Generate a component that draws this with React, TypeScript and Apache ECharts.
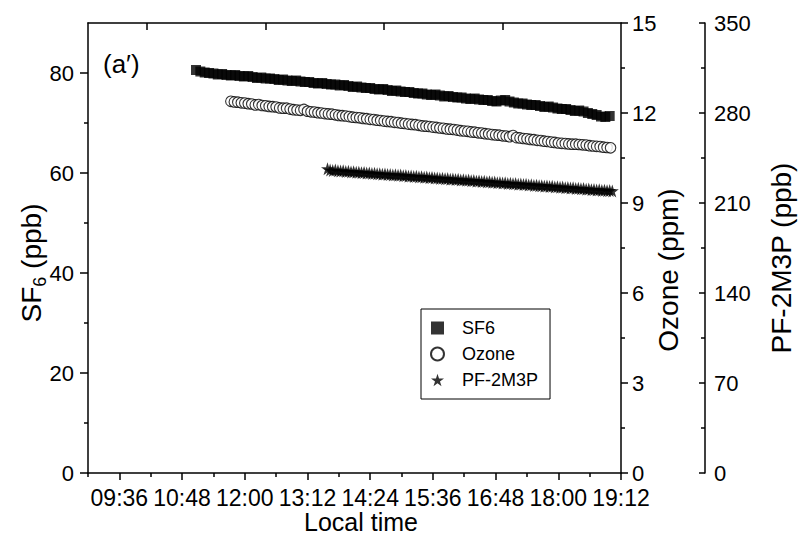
import React, { useEffect, useRef } from 'react';
import * as echarts from 'echarts';

const FONT = '"Liberation Sans", Arial, Helvetica, sans-serif';

// ---- time axis (minutes since midnight) ----
const timeMin = 540; // 09:00
const timeMax = 1152; // 19:12
const timeMajorTicks = [576, 648, 720, 792, 864, 936, 1008, 1080, 1152];
const timeMinorTicks = [540, 612, 684, 756, 828, 900, 972, 1044, 1116];
const topAxisTicks = [608, 744, 880, 1016];

// ---- value axes ----
const sf6Ticks = [0, 20, 40, 60, 80];
const sf6MinorTicks = [10, 30, 50, 70];
const ozoneTicks = [0, 3, 6, 9, 12, 15];
const ozoneMinorTicks = [1.5, 4.5, 7.5, 10.5, 13.5];
const pfTicks = [0, 70, 140, 210, 280, 350];
const pfMinorTicks = [35, 105, 175, 245, 315];

// ---- SF6 (ppb) ----
const sf6Times = [
  664, 669, 674, 679, 684, 689, 694, 699, 704, 709,
  714, 719, 724, 729, 734, 739, 744, 749, 754, 759,
  764, 769, 774, 779, 784, 789, 794, 799, 804, 809,
  814, 819, 824, 829, 834, 839, 844, 849, 854, 859,
  864, 869, 874, 879, 884, 889, 894, 899, 904, 909,
  914, 919, 924, 929, 934, 939, 944, 949, 954, 959,
  964, 969, 974, 979, 984, 989, 994, 999, 1004, 1009,
  1014, 1019, 1024, 1029, 1034, 1039, 1044, 1049, 1054, 1059,
  1064, 1069, 1074, 1079, 1084, 1089, 1094, 1099, 1104, 1109,
  1114, 1119, 1124, 1129, 1134, 1139,
];
const sf6Values = [
  80.6, 80.3, 80.1, 80.0, 79.9, 79.7, 79.8, 79.6, 79.5, 79.6,
  79.4, 79.3, 79.4, 79.2, 79.0, 79.1, 78.9, 78.9, 78.8, 78.6,
  78.7, 78.5, 78.4, 78.5, 78.3, 78.2, 78.2, 78.0, 77.9, 78.0,
  77.8, 77.7, 77.7, 77.5, 77.6, 77.4, 77.2, 77.3, 77.1, 77.0,
  77.0, 76.8, 76.7, 76.8, 76.6, 76.4, 76.5, 76.3, 76.2, 76.2,
  76.0, 75.9, 75.9, 75.7, 75.6, 75.7, 75.5, 75.3, 75.4, 75.2,
  75.1, 75.1, 74.9, 74.8, 74.9, 74.7, 74.6, 74.6, 74.4, 74.3,
  74.5, 74.6, 74.3, 74.1, 73.9, 73.9, 73.7, 73.6, 73.6, 73.4,
  73.2, 73.3, 73.1, 72.9, 72.8, 72.8, 72.6, 72.4, 72.5, 72.3,
  72.0, 71.8, 71.6, 71.3, 71.2, 71.4,
];

// ---- Ozone (ppm) ----
const ozoneTimes = [
  704, 708, 712, 716, 720, 724, 728, 732, 736, 740,
  744, 748, 752, 756, 760, 764, 768, 772, 776, 780,
  784, 788, 792, 796, 800, 804, 808, 812, 816, 820,
  824, 828, 832, 836, 840, 844, 848, 852, 856, 860,
  864, 868, 872, 876, 880, 884, 888, 892, 896, 900,
  904, 908, 912, 916, 920, 924, 928, 932, 936, 940,
  944, 948, 952, 956, 960, 964, 968, 972, 976, 980,
  984, 988, 992, 996, 1000, 1004, 1008, 1012, 1016, 1020,
  1024, 1028, 1032, 1036, 1040, 1044, 1048, 1052, 1056, 1060,
  1064, 1068, 1072, 1076, 1080, 1084, 1088, 1092, 1096, 1100,
  1104, 1108, 1112, 1116, 1120, 1124, 1128, 1132, 1136, 1140,
];
const ozoneValues = [
  12.39, 12.37, 12.36, 12.34, 12.33, 12.31, 12.30, 12.27, 12.28, 12.25,
  12.24, 12.22, 12.21, 12.20, 12.17, 12.16, 12.16, 12.13, 12.11, 12.10,
  12.09, 12.12, 12.06, 12.04, 12.03, 12.01, 12.00, 11.98, 11.97, 11.96,
  11.94, 11.92, 11.91, 11.90, 11.88, 11.86, 11.85, 11.84, 11.82, 11.81,
  11.79, 11.78, 11.76, 11.75, 11.73, 11.72, 11.71, 11.69, 11.68, 11.66,
  11.65, 11.63, 11.62, 11.61, 11.59, 11.57, 11.56, 11.55, 11.53, 11.52,
  11.50, 11.49, 11.47, 11.46, 11.45, 11.43, 11.41, 11.40, 11.39, 11.37,
  11.36, 11.34, 11.33, 11.31, 11.30, 11.28, 11.27, 11.26, 11.24, 11.23,
  11.21, 11.25, 11.18, 11.17, 11.15, 11.14, 11.12, 11.11, 11.09, 11.08,
  11.06, 11.05, 11.03, 11.02, 11.00, 10.99, 10.98, 10.97, 10.96, 10.96,
  10.95, 10.94, 10.93, 10.91, 10.90, 10.89, 10.88, 10.86, 10.85, 10.84,
];

// ---- PF-2M3P (ppb) ----
const pfTimes = [
  815, 818, 821, 824, 827, 830, 833, 836, 839, 842,
  845, 848, 851, 854, 857, 860, 863, 866, 869, 872,
  875, 878, 881, 884, 887, 890, 893, 896, 899, 902,
  905, 908, 911, 914, 917, 920, 923, 926, 929, 932,
  935, 938, 941, 944, 947, 950, 953, 956, 959, 962,
  965, 968, 971, 974, 977, 980, 983, 986, 989, 992,
  995, 998, 1001, 1004, 1007, 1010, 1013, 1016, 1019, 1022,
  1025, 1028, 1031, 1034, 1037, 1040, 1043, 1046, 1049, 1052,
  1055, 1058, 1061, 1064, 1067, 1070, 1073, 1076, 1079, 1082,
  1085, 1088, 1091, 1094, 1097, 1100, 1103, 1106, 1109, 1112,
  1115, 1118, 1121, 1124, 1127, 1130, 1133, 1136, 1139, 1142,
];
const pfValues = [
  236.6, 235.7, 235.3, 235.6, 235.0, 234.9, 235.1, 234.5, 234.6, 234.2,
  234.4, 233.9, 234.0, 233.6, 233.8, 233.3, 233.4, 233.0, 233.2, 232.7,
  232.8, 232.4, 232.6, 232.1, 232.2, 231.8, 232.0, 231.5, 231.7, 231.2,
  231.4, 230.9, 231.0, 230.6, 230.8, 230.3, 230.5, 230.0, 230.2, 229.7,
  229.9, 229.4, 229.5, 229.1, 229.3, 228.8, 229.0, 228.5, 228.7, 228.2,
  228.4, 227.9, 228.1, 227.6, 227.8, 227.3, 227.5, 227.0, 227.2, 226.7,
  226.9, 226.4, 226.6, 226.1, 226.3, 225.8, 226.0, 225.5, 225.7, 225.2,
  225.4, 224.9, 225.1, 224.6, 224.8, 224.3, 224.5, 224.0, 224.2, 223.7,
  223.9, 223.4, 223.5, 223.1, 223.3, 222.8, 223.0, 222.5, 222.7, 222.2,
  222.4, 221.9, 222.1, 221.6, 221.8, 221.3, 221.5, 221.0, 221.2, 220.7,
  220.9, 220.4, 220.5, 220.1, 220.3, 219.8, 220.0, 219.6, 219.7, 219.4,
];

const STAR = 'path://M50,0 L61.2,34.5 L97.6,34.5 L68.2,55.9 L79.4,90.5 L50,69.1 L20.6,90.5 L31.8,55.9 L2.4,34.5 L38.8,34.5 Z';

const fmtTime = (m: number) => {
  const h = Math.floor(m / 60);
  const mm = Math.round(m - h * 60);
  return `${String(h).padStart(2, '0')}:${String(mm).padStart(2, '0')}`;
};

const measure = (txt: string, size: number) => {
  const ctx = document.createElement('canvas').getContext('2d');
  if (!ctx) return txt.length * size * 0.55;
  ctx.font = `${size}px "Liberation Sans"`;
  return ctx.measureText(txt).width;
};

const LINE = { color: '#000', width: 1.5 };

export default function App() {
  const ref = useRef<HTMLDivElement>(null);

  useEffect(() => {
    const el = ref.current;
    if (!el) return;
    const chart = echarts.init(el, undefined, { renderer: 'svg' });

    const titleSize = 25;
    const vTitleSize = 28;
    const subSize = 18;
    const wSF = measure('SF', vTitleSize);
    const w6 = measure('6', subSize);
    const wPpb = measure(' (ppb)', vTitleSize);
    const x0 = -(wSF + w6 + wPpb) / 2;
    const tStyle = (text: string, size: number) => ({
      text,
      fontSize: size,
      fontFamily: FONT,
      fill: '#000',
      align: 'left',
      textAlign: 'left',
      verticalAlign: 'middle',
      textVerticalAlign: 'middle',
    });

    const yLabel = { color: '#000', fontSize: 22, fontFamily: FONT };
    const xLabel = { color: '#000', fontSize: 23, fontFamily: FONT };

    const option: any = {
      animation: false,
      backgroundColor: '#fff',
      textStyle: { fontFamily: FONT, color: '#000' },
      grid: { left: 88, right: 177, top: 23, bottom: 69, containLabel: false },
      legend: {
        data: ['SF6', 'Ozone', 'PF-2M3P'],
        orient: 'vertical',
        left: 421,
        top: 309,
        padding: [10, 12, 10, 9],
        itemWidth: 13,
        itemHeight: 13,
        itemGap: 8,
        borderColor: '#000',
        borderWidth: 1,
        borderRadius: 0,
        selectedMode: false,
        textStyle: { fontSize: 18, color: '#000', fontFamily: FONT, lineHeight: 18, padding: [0, 0, 0, 13] },
      },
      xAxis: [
        {
          type: 'value',
          position: 'bottom',
          min: timeMin,
          max: timeMax,
          splitLine: { show: false },
          axisLine: { show: true, onZero: false, lineStyle: LINE },
          axisTick: { show: true, customValues: timeMajorTicks, length: 7, lineStyle: LINE },
          axisLabel: { ...xLabel, customValues: timeMajorTicks, margin: 13, formatter: (v: number) => fmtTime(v) },
        },
        {
          type: 'value',
          position: 'bottom',
          min: timeMin,
          max: timeMax,
          splitLine: { show: false },
          axisLine: { show: false, onZero: false },
          axisTick: { show: true, customValues: timeMinorTicks, length: 4, lineStyle: LINE },
          axisLabel: { show: false },
        },
        {
          type: 'value',
          position: 'top',
          min: timeMin,
          max: timeMax,
          splitLine: { show: false },
          axisLine: { show: true, onZero: false, lineStyle: LINE },
          axisTick: { show: true, inside: true, customValues: topAxisTicks, length: 7, lineStyle: LINE },
          axisLabel: { show: false },
        },
      ],
      yAxis: [
        {
          type: 'value',
          position: 'left',
          min: 0,
          max: 90,
          splitLine: { show: false },
          axisLine: { show: true, onZero: false, lineStyle: LINE },
          axisTick: { show: true, customValues: sf6Ticks, length: 8, lineStyle: LINE },
          axisLabel: { ...yLabel, customValues: sf6Ticks, margin: 14 },
        },
        {
          type: 'value',
          position: 'left',
          min: 0,
          max: 90,
          splitLine: { show: false },
          axisLine: { show: false, onZero: false },
          axisTick: { show: true, customValues: sf6MinorTicks, length: 4, lineStyle: LINE },
          axisLabel: { show: false },
        },
        {
          type: 'value',
          position: 'right',
          min: 0,
          max: 15,
          splitLine: { show: false },
          axisLine: { show: true, onZero: false, lineStyle: LINE },
          axisTick: { show: true, customValues: ozoneTicks, length: 7, lineStyle: LINE },
          axisLabel: { ...yLabel, customValues: ozoneTicks, margin: 11 },
        },
        {
          type: 'value',
          position: 'right',
          min: 0,
          max: 15,
          splitLine: { show: false },
          axisLine: { show: false, onZero: false },
          axisTick: { show: true, customValues: ozoneMinorTicks, length: 4, lineStyle: LINE },
          axisLabel: { show: false },
        },
        {
          type: 'value',
          position: 'right',
          offset: 84,
          min: 0,
          max: 350,
          splitLine: { show: false },
          axisLine: { show: true, onZero: false, lineStyle: LINE },
          axisTick: { show: true, inside: true, customValues: pfTicks, length: 6, lineStyle: LINE },
          axisLabel: { ...yLabel, customValues: pfTicks, margin: 9 },
        },
        {
          type: 'value',
          position: 'right',
          offset: 84,
          min: 0,
          max: 350,
          splitLine: { show: false },
          axisLine: { show: false, onZero: false },
          axisTick: { show: true, inside: true, customValues: pfMinorTicks, length: 4, lineStyle: LINE },
          axisLabel: { show: false },
        },
      ],
      series: [
        {
          name: 'SF6',
          type: 'scatter',
          xAxisIndex: 0,
          yAxisIndex: 0,
          symbol: 'rect',
          symbolSize: 10,
          itemStyle: { color: '#000' },
          silent: true,
          data: sf6Times.map((t, i) => [t, sf6Values[i]]),
        },
        {
          name: 'Ozone',
          type: 'scatter',
          xAxisIndex: 0,
          yAxisIndex: 2,
          symbol: 'circle',
          symbolSize: 10.5,
          itemStyle: { color: '#fff', borderColor: '#000', borderWidth: 1.1 },
          silent: true,
          data: ozoneTimes.map((t, i) => [t, ozoneValues[i]]),
        },
        {
          name: 'PF-2M3P',
          type: 'scatter',
          xAxisIndex: 0,
          yAxisIndex: 4,
          symbol: STAR,
          symbolSize: 13,
          itemStyle: { color: '#000' },
          silent: true,
          data: pfTimes.map((t, i) => [t, pfValues[i]]),
        },
      ],
      graphic: [
        { type: 'text', left: 103, top: 51, style: { ...tStyle('(a\u2032)', 26), verticalAlign: 'top', textVerticalAlign: 'top' } },
        {
          type: 'text',
          x: 361,
          y: 522,
          style: { ...tStyle('Local time', titleSize), align: 'center', textAlign: 'center' },
        },
        {
          type: 'group',
          x: 31,
          y: 263,
          rotation: Math.PI / 2,
          children: [
            { type: 'text', x: x0, y: 0, style: tStyle('SF', vTitleSize) },
            { type: 'text', x: x0 + wSF, y: 9, style: tStyle('6', subSize) },
            { type: 'text', x: x0 + wSF + w6, y: 0, style: tStyle(' (ppb)', vTitleSize) },
          ],
        },
        {
          type: 'text',
          x: 668,
          y: 270,
          rotation: Math.PI / 2,
          style: { ...tStyle('Ozone (ppm)', vTitleSize), align: 'center', textAlign: 'center' },
        },
        {
          type: 'text',
          x: 781,
          y: 258,
          rotation: Math.PI / 2,
          style: { ...tStyle('PF-2M3P (ppb)', vTitleSize), align: 'center', textAlign: 'center' },
        },
      ],
    };

    chart.setOption(option);
    return () => chart.dispose();
  }, []);

  return (
    <div
      ref={ref}
      style={{ position: 'absolute', left: 0, top: 0, width: 798, height: 542, background: '#fff' }}
    />
  );
}
